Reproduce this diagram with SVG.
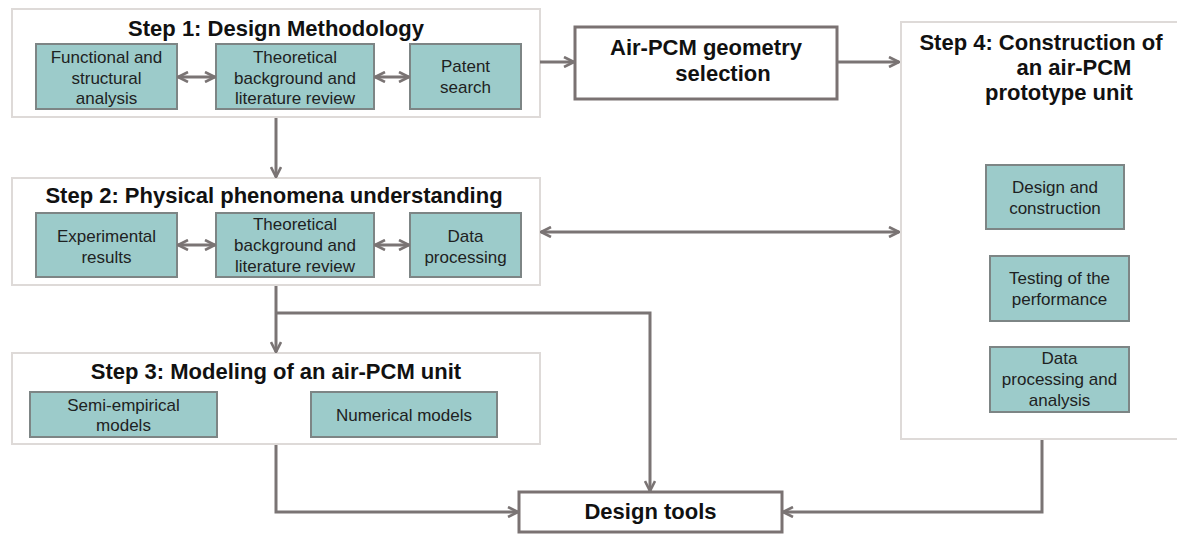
<svg xmlns="http://www.w3.org/2000/svg" width="1177" height="534" viewBox="0 0 1177 534">
<defs>
<marker id="ah" viewBox="0 0 12 12" refX="11" refY="6" markerWidth="12" markerHeight="12" markerUnits="userSpaceOnUse" orient="auto-start-reverse">
<path d="M1,1 L11,6 L1,11" fill="none" stroke="#7a7474" stroke-width="2.6" stroke-linejoin="miter"/>
</marker>
</defs>
<style>
text{font-family:"Liberation Sans",Arial,Helvetica,sans-serif;text-anchor:middle}
.cont{fill:#fff;stroke:#dedad8;stroke-width:2}
.box{fill:#9ccbca;stroke:#7d8585;stroke-width:2}
.wbox{fill:#fff;stroke:#7a7272;stroke-width:3}
.title{font-size:22px;font-weight:bold;fill:#111}
.t{font-size:17px;fill:#1e2222}
.con{fill:none;stroke:#7a7474;stroke-width:3}
</style>
<rect width="1177" height="534" fill="#fff"/>

<g id="step1">
<rect class="cont" x="12" y="9" width="528" height="108"/>
<text class="title" x="276" y="36">Step 1: Design Methodology</text>
</g>
<g id="s1-functional">
<rect class="box" x="36" y="44" width="141" height="65"/>
<text class="t" x="106.5" y="63">Functional and</text>
<text class="t" x="106.5" y="83.5">structural</text>
<text class="t" x="106.5" y="104">analysis</text>
</g>
<g id="s1-theoretical">
<rect class="box" x="216" y="44" width="158" height="65"/>
<text class="t" x="295" y="63">Theoretical</text>
<text class="t" x="295" y="83.5">background and</text>
<text class="t" x="295" y="104">literature review</text>
</g>
<g id="s1-patent">
<rect class="box" x="410" y="44" width="111" height="65"/>
<text class="t" x="465.5" y="72">Patent</text>
<text class="t" x="465.5" y="93">search</text>
</g>

<g id="geometry">
<rect class="wbox" x="575" y="27" width="262" height="72"/>
<text class="title" x="706" y="55">Air-PCM geometry</text>
<text class="title" x="723" y="81">selection</text>
</g>

<g id="step4">
<rect class="cont" x="901" y="22" width="290" height="417"/>
<text class="title" x="1041" y="50">Step 4: Construction of</text>
<text class="title" x="1074" y="75">an air-PCM</text>
<text class="title" x="1059" y="100">prototype unit</text>
</g>
<g id="s4-design">
<rect class="box" x="986" y="165" width="138" height="64"/>
<text class="t" x="1055" y="193">Design and</text>
<text class="t" x="1055" y="214">construction</text>
</g>
<g id="s4-testing">
<rect class="box" x="990" y="256" width="139" height="65"/>
<text class="t" x="1059.5" y="284">Testing of the</text>
<text class="t" x="1059.5" y="305">performance</text>
</g>
<g id="s4-data">
<rect class="box" x="990" y="347" width="139" height="65"/>
<text class="t" x="1059.5" y="364">Data</text>
<text class="t" x="1059.5" y="385">processing and</text>
<text class="t" x="1059.5" y="406">analysis</text>
</g>

<g id="step2">
<rect class="cont" x="12" y="178" width="528" height="107"/>
<text class="title" x="274" y="203">Step 2: Physical phenomena understanding</text>
</g>
<g id="s2-experimental">
<rect class="box" x="36" y="213" width="141" height="64"/>
<text class="t" x="106.5" y="242">Experimental</text>
<text class="t" x="106.5" y="263">results</text>
</g>
<g id="s2-theoretical">
<rect class="box" x="216" y="213" width="158" height="64"/>
<text class="t" x="295" y="230">Theoretical</text>
<text class="t" x="295" y="251">background and</text>
<text class="t" x="295" y="272">literature review</text>
</g>
<g id="s2-data">
<rect class="box" x="410" y="213" width="111" height="64"/>
<text class="t" x="465.5" y="242">Data</text>
<text class="t" x="465.5" y="263">processing</text>
</g>

<g id="step3">
<rect class="cont" x="12" y="353" width="528" height="91"/>
<text class="title" x="276" y="379">Step 3: Modeling of an air-PCM unit</text>
</g>
<g id="s3-semi">
<rect class="box" x="30" y="392" width="187" height="45"/>
<text class="t" x="123.5" y="411">Semi-empirical</text>
<text class="t" x="123.5" y="431">models</text>
</g>
<g id="s3-numerical">
<rect class="box" x="311" y="392" width="186" height="45"/>
<text class="t" x="404" y="421">Numerical models</text>
</g>

<g id="design-tools">
<rect class="wbox" x="519" y="492" width="263" height="40"/>
<text class="title" x="650.5" y="519">Design tools</text>
</g>

<g id="connectors">
<line class="con" x1="178" y1="77" x2="215" y2="77" marker-start="url(#ah)" marker-end="url(#ah)"/>
<line class="con" x1="375" y1="77" x2="409" y2="77" marker-start="url(#ah)" marker-end="url(#ah)"/>
<line class="con" x1="178" y1="245" x2="215" y2="245" marker-start="url(#ah)" marker-end="url(#ah)"/>
<line class="con" x1="375" y1="245" x2="409" y2="245" marker-start="url(#ah)" marker-end="url(#ah)"/>
<line class="con" x1="540" y1="62" x2="574" y2="62" marker-end="url(#ah)"/>
<line class="con" x1="838" y1="62" x2="899" y2="62" marker-end="url(#ah)"/>
<line class="con" x1="541" y1="232" x2="899" y2="232" marker-start="url(#ah)" marker-end="url(#ah)"/>
<line class="con" x1="276" y1="118" x2="276" y2="177" marker-end="url(#ah)"/>
<line class="con" x1="276" y1="286" x2="276" y2="352" marker-end="url(#ah)"/>
<polyline class="con" points="276,313 650,313 650,491" marker-end="url(#ah)"/>
<polyline class="con" points="276,445 276,512 518,512" marker-end="url(#ah)"/>
<polyline class="con" points="1042,440 1042,512 783,512" marker-end="url(#ah)"/>
</g>
</svg>
